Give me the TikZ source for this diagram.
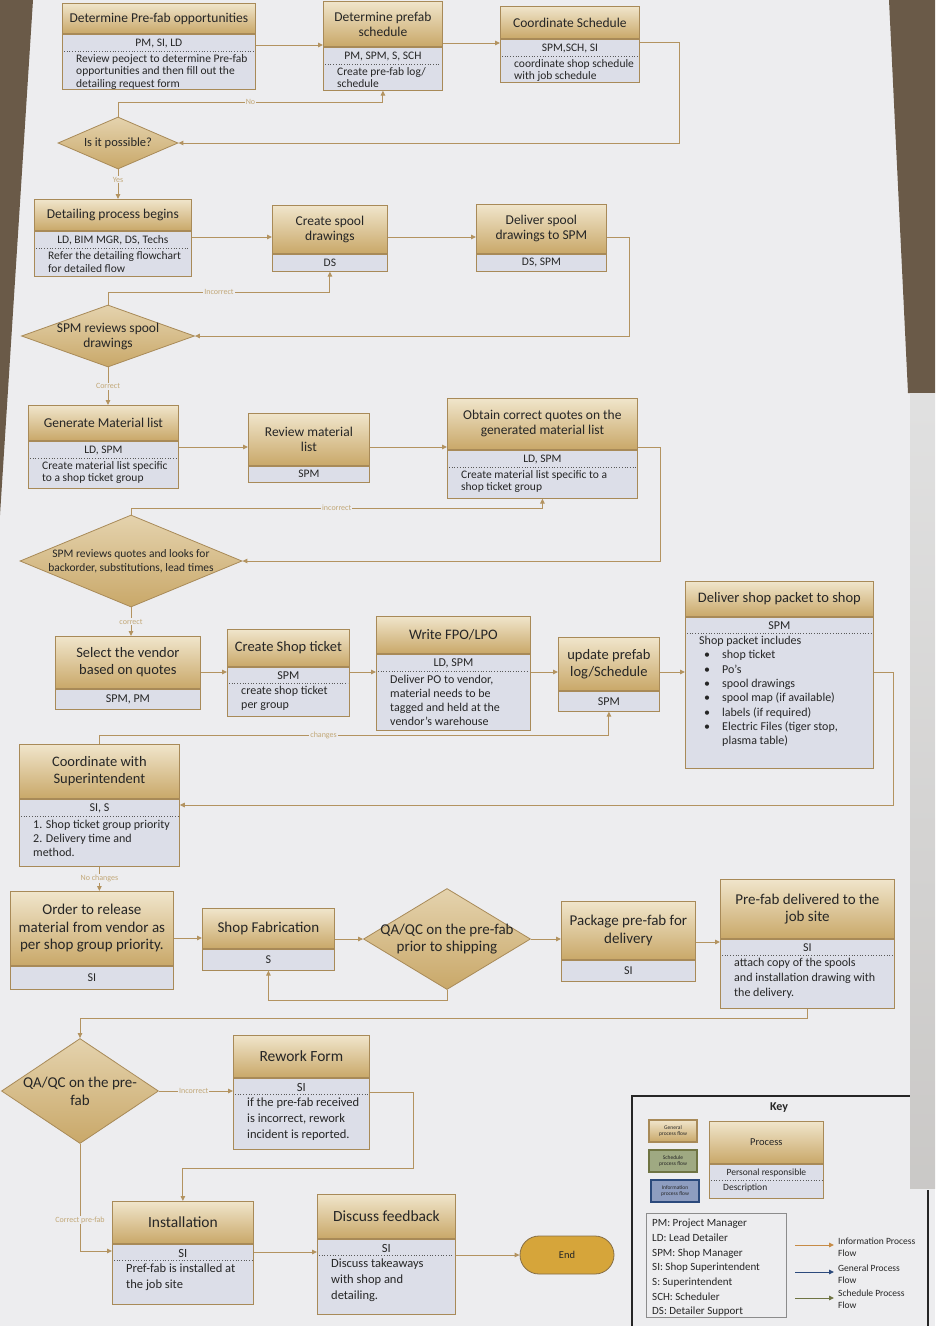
\documentclass[tikz,border=0pt]{standalone}
\usepackage{fontspec}
\setmainfont{Carlito}
\usetikzlibrary{arrows.meta, calc, shapes.geometric}

\definecolor{paper}{HTML}{EDEDEF}
\definecolor{wood}{HTML}{6A5A48}
\definecolor{edgec}{HTML}{A88A58}
\definecolor{headtop}{HTML}{F0E5CB}
\definecolor{headbot}{HTML}{C9A869}
\definecolor{bodyc}{HTML}{DCDEE8}
\definecolor{linec}{HTML}{B39360}
\definecolor{labc}{HTML}{C2A878}
\definecolor{endc}{HTML}{D6A53A}
\definecolor{txtc}{HTML}{262626}
\definecolor{schc}{HTML}{9FA982}
\definecolor{infc}{HTML}{8E9DC0}
\definecolor{infarrow}{HTML}{C68B46}
\definecolor{genarrow}{HTML}{2C4A7C}
\definecolor{scharrow}{HTML}{6F7443}

\newcommand\tfont{\fontsize{13.5}{15}\selectfont}
\newcommand\bfont{\fontsize{11.5}{12.5}\selectfont}
\newcommand\bul{\hspace*{5pt}\makebox[18pt][l]{\textbullet}}

\tikzset{
  phead/.style={draw=edgec, line width=0.8pt, top color=headtop, bottom color=headbot,
    anchor=north west, inner sep=2pt, align=center, font=\tfont, text=txtc},
  pbody/.style={draw=edgec, line width=0.8pt, fill=bodyc, anchor=north west,
    inner sep=1pt, align=center, font=\bfont, text=txtc},
  pers/.style={inner sep=3pt, font=\bfont, text=txtc},
  desc/.style={inner sep=1pt, align=left, font=\bfont, text=txtc},
  sepline/.style={draw=black!65, dotted, line width=0.7pt},
  decide/.style={diamond, draw=edgec, line width=0.8pt, top color=headtop!70!headbot,
    bottom color=headbot, inner sep=0pt},
  dtext/.style={align=center, font=\tfont, text=txtc, inner sep=0pt},
  flow/.style={draw=linec, line width=1pt, -{Triangle[length=5pt,width=4.5pt]}},
  lbl/.style={fill=paper, inner sep=1pt, text=labc, font=\fontsize{8}{9}\selectfont},
  endnode/.style={draw=edgec!80!black, line width=0.8pt, fill=endc, rounded corners=19pt,
    minimum width=94pt, minimum height=38pt, font=\fontsize{10.5}{12}\selectfont, text=txtc},
  kbox/.style={draw=edgec, line width=1.2pt, minimum width=48pt, minimum height=22pt,
    inner sep=0pt, align=center, font=\fontsize{5.5}{6.5}\selectfont, text=txtc},
  klab/.style={anchor=west, align=left, inner sep=0pt, font=\fontsize{9.5}{12.5}\selectfont, text=txtc},
  keyline/.style={draw=black!85, line width=1.6pt},
}

% name, x, y, width, head height, body height, title, persons
\newcommand{\procbox}[8]{%
  \node[phead, minimum width=#4pt, minimum height=#5pt] (#1) at (#2,#3) {#7};
  \node[pbody, minimum width=#4pt, minimum height=#6pt] (#1b) at (#1.south west) {#8};
}
% name, x, y, width, head height, body height, title, persons, description
\newcommand{\procdesc}[9]{%
  \node[phead, minimum width=#4pt, minimum height=#5pt] (#1) at (#2,#3) {#7};
  \node[pbody, minimum width=#4pt, minimum height=#6pt] (#1b) at (#1.south west) {};
  \node[pers, anchor=north] (#1p) at ($(#1b.north)+(0,2)$) {#8};
  \draw[sepline] ($(#1p.south -| #1b.west)+(2,0)$) -- ($(#1p.south -| #1b.east)+(-2,0)$);
  \node[desc, anchor=north west] (#1d) at ($(#1p.south -| #1b.west)+(13,2)$) {#9};
}

\begin{document}
\begin{tikzpicture}[x=1pt, y=-1pt]
	\useasboundingbox (0,0) rectangle (935,1326);
	\fill[paper] (0,0) rectangle (935,1326);
	\fill[wood] (0,0) -- (33,0) -- (0,515) -- cycle;
	\fill[wood] (889,0) -- (935,0) -- (935,393) -- (908,393) -- cycle;

	% row 1
	\procdesc{b1}{62}{3}{193}{30}{55}{Determine Pre-fab opportunities}{PM, SI, LD}{Review peoject to determine Pre-fab\\opportunities and then fill out the\\detailing request form}
	\procdesc{b2}{323}{1}{119}{45}{43}{Determine prefab\\schedule}{PM, SPM, S, SCH}{Create pre-fab log/\\schedule}
	\procdesc{b3}{500}{6}{139}{32}{43}{Coordinate Schedule}{SPM,SCH, SI}{coordinate shop schedule\\with job schedule}
	\node[decide, minimum width=120pt, minimum height=52pt] (q1) at (118,143) {};
	\node[dtext, font=\fontsize{12.5}{15}\selectfont] (q1t) at (q1) {Is it possible?};

	% row 2
	\procdesc{d1}{34}{199}{157}{31}{45}{Detailing process begins}{LD, BIM MGR, DS, Techs}{Refer the detailing flowchart\\for detailed flow}
	\procbox{d2}{272}{205}{115}{48}{17}{Create spool\\drawings}{DS}
	\procbox{d3}{476}{204}{130}{49}{17}{Deliver spool\\drawings to SPM}{DS, SPM}
	\node[decide, minimum width=173pt, minimum height=62pt] (q2) at (108,336) {};
	\node[dtext] (q2t) at (q2) {SPM reviews spool\\drawings};

	% row 3
	\procdesc{g1}{28}{405}{150}{35}{47}{Generate Material list}{LD, SPM}{Create material list specific\\to a shop ticket group}
	\procbox{g2}{248}{413}{121}{52}{16}{Review material\\list}{SPM}
	\procdesc{g3}{447}{398}{190}{51}{48}{Obtain correct quotes on the\\generated material list}{LD, SPM}{Create material list specific to a\\shop ticket group}
	\node[decide, minimum width=222pt, minimum height=92pt] (q3) at (131,561) {};
	\node[dtext, font=\fontsize{11.5}{14}\selectfont] (q3t) at (q3) {SPM reviews quotes and looks for\\backorder, substitutions, lead times};

	% row 4
	\renewcommand\tfont{\fontsize{14.5}{17}\selectfont}
	\renewcommand\bfont{\fontsize{12}{14.3}\selectfont}
	\procbox{v1}{55}{636}{145}{52}{20}{Select the vendor\\based on quotes}{SPM, PM}
	\procdesc{v2}{227}{629}{122}{37}{49}{Create Shop ticket}{SPM}{create shop ticket\\per group}
	\procdesc{v3}{376}{616}{154}{37}{76}{Write FPO/LPO}{LD, SPM}{Deliver PO to vendor,\\material needs to be\\tagged and held at the\\vendor's warehouse}
	\procbox{v4}{558}{637}{101}{53}{20}{update prefab\\log/Schedule}{SPM}
	\procdesc{v5}{685}{581}{188}{35}{151}{Deliver shop packet to shop}{SPM}{Shop packet includes\\\bul shop ticket\\\bul Po's\\\bul spool drawings\\\bul spool map (if available)\\\bul labels (if required)\\\bul Electric Files (tiger stop,\\\hspace*{23pt}plasma table)}
	\procdesc{c1}{19}{744}{160}{54}{67}{Coordinate with\\Superintendent}{SI, S}{1. Shop ticket group priority\\2. Delivery time and\\method.}

	% row 5
	\renewcommand\tfont{\fontsize{15}{17.5}\selectfont}
	\renewcommand\bfont{\fontsize{12}{15}\selectfont}
	\procbox{o1}{10}{891}{163}{74}{23}{Order to release\\material from vendor as\\per shop group priority.}{SI}
	\procbox{o2}{202}{908}{132}{40}{21}{Shop Fabrication}{S}
	\node[decide, minimum width=167pt, minimum height=101pt] (q4) at (447,939) {};
	\node[dtext] (q4t) at (q4) {QA/QC on the pre-fab\\prior to shipping};
	\procbox{o3}{561}{901}{134}{58}{21}{Package pre-fab for\\delivery}{SI}
	\procdesc{o4}{720}{879}{174}{59}{69}{Pre-fab delivered to the\\job site}{SI}{attach copy of the spools\\and installation drawing with\\the delivery.}

	% row 6
	\renewcommand\tfont{\fontsize{15.5}{17.5}\selectfont}
	\renewcommand\bfont{\fontsize{12.5}{16}\selectfont}
	\node[decide, minimum width=157pt, minimum height=105pt] (q5) at (80,1091) {};
	\node[dtext, font=\fontsize{15}{18}\selectfont] (q5t) at (q5) {QA/QC on the pre-\\fab};
	\procdesc{r1}{233}{1035}{136}{42}{71}{Rework Form}{SI}{if the pre-fab received\\is incorrect, rework\\incident is reported.}
	\procdesc{i1}{112}{1201}{141}{42}{60}{Installation}{SI}{Pref-fab is installed at\\the job site}
	\procdesc{i2}{317}{1194}{138}{44}{75}{Discuss feedback}{SI}{Discuss takeaways\\with shop and\\detailing.}
	\node[endnode] (fin) at (567,1255) {End};

	% connectors
	\draw[flow] (b1b.east|-0,45) -- (b2.west|-0,45);
	\draw[flow] (b2b.east|-0,43) -- (b3.west|-0,43);
	\draw[flow] (b3b.east|-0,42) -- (679,42) |- (q1.east);
	\draw[flow] (q1.north) -- (q1.north|-0,102) -| node[lbl, pos=0.25] (lno) {No} (b2b.south);
	\draw[flow] (q1.south) -- node[lbl, pos=0.35] (lyes) {Yes} (q1.south|-d1.north);

	\draw[flow] (d1b.east|-0,237) -- (d2.west|-0,237);
	\draw[flow] (d2.east|-0,237) -- (d3.west|-0,237);
	\draw[flow] (d3.east|-0,237) -- (629,237) |- (q2.east);
	\draw[flow] (q2.north) -- (q2.north|-0,292) -| node[lbl, pos=0.25] (linc1) {Incorrect} (d2b.south);
	\draw[flow] (q2.south) -- node[lbl] (lcor1) {Correct} (q2.south|-g1.north);

	\draw[flow] (g1b.east|-0,447) -- (g2.west|-0,447);
	\draw[flow] (g2.east|-0,447) -- (g3.west|-0,447);
	\draw[flow] (g3.east|-0,447) -- (660,447) |- (q3.east);
	\draw[flow] (q3.north) -- (q3.north|-0,508) -| node[lbl, pos=0.25] (linc2) {incorrect} (g3b.south);
	\draw[flow] (q3.south) -- node[lbl] (lcor2) {correct} (q3.south|-v1.north);

	\draw[flow] (v1.east|-0,672) -- (v2.west|-0,672);
	\draw[flow] (v2.east|-0,672) -- (v3.west|-0,672);
	\draw[flow] (v3.east|-0,672) -- (v4.west|-0,672);
	\draw[flow] (v4.east|-0,672) -- (v5.west|-0,672);
	\draw[flow] (v5.east|-0,672) -- (893,672) |- (c1b.east|-0,805);
	\draw[flow] (c1.north) -- (c1.north|-0,735) -| node[lbl, pos=0.22] (lchg) {changes} (v4b.south);
	\draw[flow] (c1b.south) -- node[lbl] (lnoc) {No changes} (c1b.south|-o1.north);

	\draw[flow] (o1.east|-0,938) -- (o2.west|-0,938);
	\draw[flow] (o2.east|-q4.west) -- (q4.west);
	\draw[flow] (q4.east) -- (q4.east-|o3.west);
	\draw[flow] (o3.east|-0,942) -- (o4.west|-0,942);
	\draw[flow] (q4.south) -- (q4.south|-0,1000) -| (o2b.south);
	\draw[flow] (o4b.south) -- (o4b.south|-0,1018) -| (q5.north);

	\draw[flow] (q5.east) -- node[lbl, pos=0.47] (linc3) {Incorrect} (q5.east-|r1.west);
	\draw[flow] (r1b.east|-0,1092) -- (413,1092) |- (i1.north|-0,1168) -- (i1.north);
	\draw[flow] (q5.south) -- node[lbl, pos=0.71] (lcor3) {Correct pre-fab} (q5.south|-0,1251) -- (i1b.west|-0,1251);
	\draw[flow] (i1b.east|-0,1252) -- (i2b.west|-0,1252);
	\draw[flow] (i2b.east|-fin.west) -- (fin.west);

	% key
	\draw[keyline] (632,1326) -- (632,1096) -- (935,1096);
	\draw[keyline] (928,1190) -- (928,1326);
	\node[font=\bfseries\fontsize{12}{14}\selectfont, text=txtc] (ktitle) at (779,1108) {Key};
	\node[kbox, top color=headtop, bottom color=headbot] (kgen) at (673,1131) {General\\process flow};
	\node[kbox, fill=schc, draw=scharrow] (ksch) at (673,1161) {Schedule\\process flow};
	\node[kbox, fill=infc, draw=genarrow] (kinf) at (675,1191) {Information\\process flow};
	\renewcommand\tfont{\fontsize{10.5}{13}\selectfont}
	\renewcommand\bfont{\fontsize{9.5}{11}\selectfont}
	\procdesc{kp}{709}{1121}{114}{42}{34}{Process}{Personal responsible}{Description}
	\node[draw=black!45, line width=0.6pt, minimum width=140pt, minimum height=104pt,
		anchor=north west, inner sep=0pt] (kabbr) at (646,1213) {};
	\node[anchor=north west, align=left, inner sep=0pt, font=\fontsize{11}{14.7}\selectfont, text=txtc]
		(kabbrt) at ($(kabbr.north west)+(6,6)$) {PM: Project Manager\\LD: Lead Detailer\\SPM: Shop Manager\\SI: Shop Superintendent\\S: Superintendent\\SCH: Scheduler\\DS: Detailer Support};
	\node[klab] (kli) at (838,1247) {Information Process\\Flow};
	\node[klab] (klg) at (838,1274) {General Process\\Flow};
	\node[klab] (kls) at (838,1299) {Schedule Process\\Flow};
	\draw[flow, draw=infarrow] ($(kli.west)+(-43,-2)$) -- ($(kli.west)+(-4,-2)$);
	\draw[flow, draw=genarrow] ($(klg.west)+(-43,-2)$) -- ($(klg.west)+(-4,-2)$);
	\draw[flow, draw=scharrow] ($(kls.west)+(-43,-1)$) -- ($(kls.west)+(-4,-1)$);

	% second sheet at the right edge
	\fill[top color=black!12, bottom color=wood!40!black!25] (910,393) rectangle (935,1188);
\end{tikzpicture}
\end{document}
